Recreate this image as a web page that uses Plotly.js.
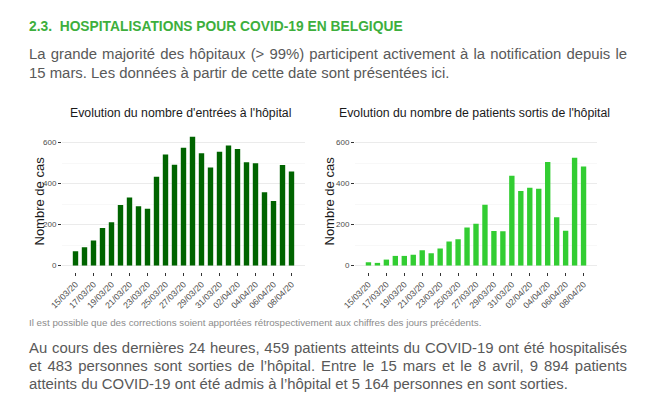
<!DOCTYPE html>
<html>
<head>
<meta charset="utf-8">
<script src="https://cdn.plot.ly/plotly-3.0.1.min.js"></script>
<style>
  html, body { margin:0; padding:0; background:#fff; }
  body { width:650px; height:415px; position:relative; overflow:hidden; font-family:"Liberation Sans", Arial, sans-serif; }
  #chart { position:absolute; left:0; top:0; width:650px; height:415px; }
  .ln { position:absolute; left:29px; white-space:nowrap; }
  .p { font-size:14.9px; line-height:17px; color:#595959; }
  .j { width:598px; text-align:justify; text-align-last:justify; white-space:normal; }
</style>
</head>
<body>
<div id="chart"></div>
<div class="ln" style="top:19.2px;font-size:13.8px;line-height:15px;font-weight:bold;color:#3daf3d;">2.3.&nbsp; HOSPITALISATIONS POUR COVID-19 EN BELGIQUE</div>
<div class="ln p j" style="top:46.3px;">La grande majorité des hôpitaux (&gt; 99%) participent activement à la notification depuis le</div>
<div class="ln p" style="top:64.8px;">15 mars. Les données à partir de cette date sont présentées ici.</div>
<div class="ln" style="top:316.6px;font-size:9.8px;line-height:11px;color:#8c8c8c;">Il est possible que des corrections soient apportées rétrospectivement aux chiffres des jours précédents.</div>
<div class="ln p j" style="top:340.3px;">Au cours des dernières 24 heures, 459 patients atteints du COVID-19 ont été hospitalisés</div>
<div class="ln p j" style="top:358px;">et 483 personnes sont sorties de l’hôpital. Entre le 15 mars et le 8 avril, 9 894 patients</div>
<div class="ln p" style="top:375.6px;">atteints du COVID-19 ont été admis à l’hôpital et 5 164 personnes en sont sorties.</div>
<script>
const dates = ['15/03/20','16/03/20','17/03/20','18/03/20','19/03/20','20/03/20','21/03/20','22/03/20','23/03/20','24/03/20','25/03/20','26/03/20','27/03/20','28/03/20','29/03/20','30/03/20','31/03/20','01/04/20','02/04/20','03/04/20','04/04/20','05/04/20','06/04/20','07/04/20','08/04/20'];
const admissions = [70, 89, 122, 183, 211, 295, 332, 289, 277, 433, 541, 491, 574, 628, 548, 478, 555, 585, 568, 504, 499, 358, 315, 490, 459];
const discharges = [16, 13, 29, 47, 47, 53, 75, 60, 83, 117, 128, 185, 204, 296, 168, 167, 438, 364, 379, 375, 505, 236, 170, 526, 483];
const tickLabels = ['15/03/20','17/03/20','19/03/20','21/03/20','23/03/20','25/03/20','27/03/20','29/03/20','31/03/20','02/04/20','04/04/20','06/04/20','08/04/20'];
const yTicks = [0, 200, 400, 600];
const yMinor = [100, 300, 500];
const titleLeft = "Evolution du nombre d'entrées à l'hôpital";
const titleRight = "Evolution du nombre de patients sortis de l'hôpital";
const yTitle = "Nombre de cas";

const W = 650, H = 415;
const px = v => v / W;
const py = v => 1 - v / H;

function xax(d) {
  return {
    domain: d, type: 'category', range: [-1.5, 25.5],
    tickmode: 'array', tickvals: tickLabels, ticktext: tickLabels,
    tickangle: -45, ticks: 'outside', ticklen: 3, tickwidth: 1, tickcolor: '#333333',
    tickfont: {size: 8.7, color: '#4d4d4d', family: 'Liberation Sans, Arial, sans-serif'},
    showgrid: false, zeroline: false, showline: false, fixedrange: true
  };
}
function yax(anchor) {
  return {
    domain: [py(272), py(129.8)], range: [-31.5, 662], anchor: anchor,
    tickmode: 'array', tickvals: yTicks, ticktext: yTicks.map(String),
    ticks: 'outside', ticklen: 3, tickwidth: 1, tickcolor: '#333333',
    tickfont: {size: 8, color: '#4d4d4d', family: 'Liberation Sans, Arial, sans-serif'},
    showgrid: true, gridcolor: '#ebebeb', gridwidth: 1,
    minor: {tickmode: 'array', tickvals: yMinor, showgrid: true, gridcolor: '#f5f5f5', gridwidth: 0.7, ticks: ''},
    zeroline: false, showline: false, fixedrange: true
  };
}

const data = [
  {type: 'bar', x: dates, y: admissions, xaxis: 'x', yaxis: 'y', width: 0.6,
   marker: {color: '#006400', line: {width: 0}}, hoverinfo: 'skip'},
  {type: 'bar', x: dates, y: discharges, xaxis: 'x2', yaxis: 'y2', width: 0.6,
   marker: {color: '#32cd32', line: {width: 0}}, hoverinfo: 'skip'}
];

const fontT = {family: 'Liberation Sans, Arial, sans-serif', size: 12.3, color: '#1a1a1a'};
const fontY = {family: 'Liberation Sans, Arial, sans-serif', size: 13, color: '#1a1a1a'};

const layout = {
  width: W, height: H, margin: {l: 0, r: 0, t: 0, b: 0},
  paper_bgcolor: 'rgba(0,0,0,0)', plot_bgcolor: 'rgba(0,0,0,0)',
  showlegend: false, bargap: 0.4,
  xaxis: xax([px(62), px(305)]),
  yaxis: yax('x'),
  xaxis2: xax([px(355), px(597)]),
  yaxis2: yax('x2'),
  annotations: [
    {text: titleLeft, xref: 'paper', yref: 'paper', x: px(180.5), y: py(112.7), xanchor: 'center', yanchor: 'middle', showarrow: false, font: fontT},
    {text: titleRight, xref: 'paper', yref: 'paper', x: px(474.5), y: py(112.7), xanchor: 'center', yanchor: 'middle', showarrow: false, font: fontT},
    {text: yTitle, xref: 'paper', yref: 'paper', x: px(38.5), y: py(201), xanchor: 'center', yanchor: 'middle', textangle: -90, showarrow: false, font: fontY},
    {text: yTitle, xref: 'paper', yref: 'paper', x: px(328.5), y: py(201), xanchor: 'center', yanchor: 'middle', textangle: -90, showarrow: false, font: fontY}
  ]
};

Plotly.newPlot('chart', data, layout, {displayModeBar: false, staticPlot: true});
</script>
</body>
</html>
